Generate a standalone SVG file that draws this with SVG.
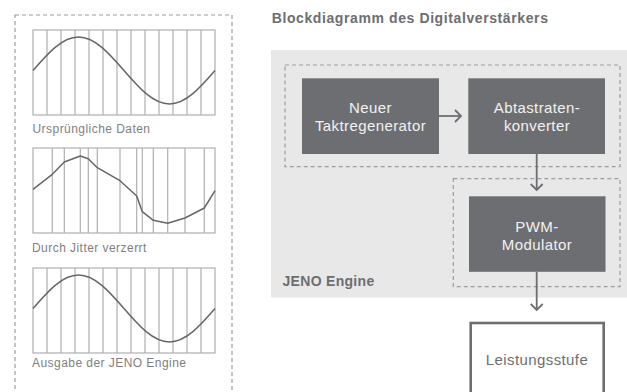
<svg xmlns="http://www.w3.org/2000/svg" width="627" height="392" viewBox="0 0 627 392">
<style>
.dash{fill:none;stroke:#9d9d9d;stroke-width:1.2;stroke-dasharray:4 3}
.grid{fill:none;stroke:#b0b0b0;stroke-width:1.2}
.curve{fill:none;stroke:#666;stroke-width:1.5;stroke-linejoin:round}
.cap{font-family:"Liberation Sans",Arial,sans-serif;font-size:12px;letter-spacing:0.45px;fill:#808080}
.box{fill:#6d6e71}
.bt{font-family:"Liberation Sans",Arial,sans-serif;font-size:15px;letter-spacing:0.4px;fill:#f2f2f2;text-anchor:middle}
.head{font-family:"Liberation Sans",Arial,sans-serif;font-weight:bold;fill:#6d6e71}
.conn{fill:none;stroke:#6d6e71;stroke-width:1.8}
</style>
<defs>
<marker id="arr" viewBox="-8 -8 10 16" markerWidth="10" markerHeight="16" refX="0" refY="0" orient="auto" markerUnits="userSpaceOnUse">
<path d="M-6,-6 L0,0 L-6,6" fill="none" stroke="#6d6e71" stroke-width="1.8"/>
</marker>
<g id="grid13">
<rect x="33" y="0" width="182" height="85" class="grid"/>
<path class="grid" d="M47,0V85M61,0V85M75,0V85M89,0V85M103,0V85M117,0V85M131,0V85M145,0V85M159,0V85M173,0V85M187,0V85M201,0V85"/>
<path class="curve" d="M33,40.5 C47.84,23.34 62.03,7 78.5,7 S109.16,23.34 124,40.5 S153.03,74 169.5,74 S200.16,57.66 215,40.5"/>
</g>
</defs>

<g id="signals">
<rect class="dash" x="15" y="15" width="217" height="390"/>
<g id="graph-original" transform="translate(0,30)"><use href="#grid13"/></g>
<text class="cap" x="32.5" y="132.7">Ursprüngliche Daten</text>
<g id="graph-jitter">
<rect x="33" y="148" width="182" height="85" class="grid"/>
<path class="grid" d="M52.3,148V233M64.3,148V233M80.3,148V233M88.3,148V233M97.3,148V233M120,148V233M136.7,148V233M142.3,148V233M153.3,148V233M167.7,148V233M185,148V233M204.3,148V233"/>
<polyline class="curve" points="33,189.3 52.3,174.3 64.3,162 80.3,156 88.3,158.7 97.3,167.7 120,180.7 136.7,196 142.3,211.7 153.3,220.3 167.7,223.3 185,218 204.3,208 215,190.7"/>
</g>
<text class="cap" x="32" y="251.7">Durch Jitter verzerrt</text>
<g id="graph-jeno" transform="translate(0,268)"><use href="#grid13"/></g>
<text class="cap" x="32" y="367.3">Ausgabe der JENO Engine</text>
</g>

<text class="head" x="271.7" y="23.3" font-size="14" letter-spacing="0.6">Blockdiagramm des Digitalverstärkers</text>

<g id="jeno-engine">
<rect x="271" y="50" width="356" height="247.5" fill="#e8e8e8"/>
<rect class="dash" x="285" y="65" width="335" height="101.7"/>
<rect class="dash" x="453.3" y="178.6" width="166.7" height="108"/>
<text class="head" x="282.5" y="285.7" font-size="14" letter-spacing="0.3">JENO Engine</text>
</g>

<g id="taktregenerator">
<rect class="box" x="302" y="78.3" width="137" height="75.7"/>
<text class="bt" x="370.5" y="112.8">Neuer</text>
<text class="bt" x="370.5" y="131">Taktregenerator</text>
</g>

<g id="abtastratenkonverter">
<rect class="box" x="468.3" y="78.3" width="136.7" height="75.7"/>
<text class="bt" x="537" y="112.8">Abtastraten-</text>
<text class="bt" x="537" y="131">konverter</text>
</g>

<g id="pwm-modulator">
<rect class="box" x="469" y="196.3" width="136.5" height="75.5"/>
<text class="bt" x="537" y="231.8">PWM-</text>
<text class="bt" x="537" y="250">Modulator</text>
</g>

<g id="leistungsstufe">
<rect x="470.7" y="323" width="133" height="100" fill="#fff" stroke="#6d6e71" stroke-width="2.6"/>
<text class="bt" x="537" y="365" style="fill:#6d6e71">Leistungsstufe</text>
</g>

<g id="connectors">
<line class="conn" x1="439" y1="116" x2="461" y2="116" marker-end="url(#arr)"/>
<line class="conn" x1="536.7" y1="154" x2="536.7" y2="190" marker-end="url(#arr)"/>
<line class="conn" x1="536.7" y1="271.8" x2="536.7" y2="310" marker-end="url(#arr)"/>
</g>
</svg>
